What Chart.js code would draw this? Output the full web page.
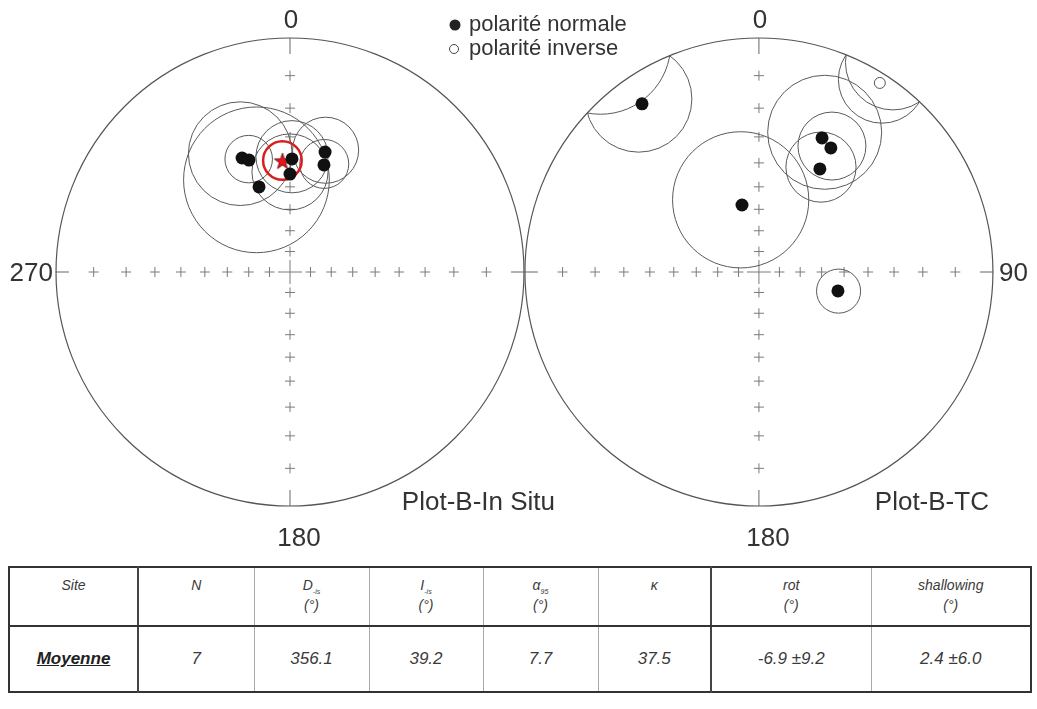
<!DOCTYPE html>
<html>
<head>
<meta charset="utf-8">
<script src="https://cdn.jsdelivr.net/npm/chart.js@4.4.0/dist/chart.umd.min.js"></script>
<style>
  body { margin: 0; background: #fff; font-family: "Liberation Sans", Arial, sans-serif; }
  #wrap { position: relative; width: 1037px; height: 709px; }
  #stereo { position: absolute; left: 0; top: 0; }
  #tab { position: absolute; left: 8px; top: 566px; width: 1022px; table-layout: fixed;
         border-collapse: collapse; border: 2px solid #333; font-style: italic; color: #3a3a3a; }
  #tab td { border-left: 1px solid #aaa; text-align: center; padding: 0; }
  #tab td.dark { border-left: 2px solid #444; }
  #tab tr.head td { height: 59px; vertical-align: top; font-size: 14px; line-height: 20px;
                    padding-top: 7px; border-bottom: 2px solid #333; box-sizing: border-box; }
  #tab tr.data td { height: 64px; font-size: 17px; }
  #tab sub { font-size: 7px; line-height: 0; }
  #tab .site { font-weight: bold; text-decoration: underline; font-size: 17px; color: #222; }
</style>
</head>
<body>
<div id="wrap">
  <canvas id="stereo" width="1037" height="555"></canvas>
  <table id="tab">
    <colgroup id="cols"></colgroup>
    <tr class="head" id="head"></tr>
    <tr class="data" id="row"></tr>
  </table>
</div>
<script>
// Plot-B-In Situ : directions par site (déclinaison, inclinaison, alpha95 en degrés)
const situDec = [337.2, 339.9, 340.0, 1.0, 0.0, 16.3, 17.6];
const situInc = [34.3, 36.0, 47.7, 38.4, 44.6, 33.8, 38.7];
const situA95 = [19.5, 9.2, 30.0, 14.2, 15.7, 12.5, 9.7];

// Plot-B-TC (inclinaison négative = polarité inverse)
const tcDec = [325.2, 345.8, 25.2, 30.1, 30.6, 103.5, 32.6];
const tcInc = [7.6, 57.1, 25.3, 27.0, 35.8, 51.7, -2.4];
const tcA95 = [14.5, 29.8, 19.5, 12.0, 13.5, 9.6, 11.0];

// direction moyenne (in situ)
const meanDec = [356.1];
const meanInc = [39.2];
const meanA95 = [7.7];

// croix tous les 10° d'inclinaison
const tickInc = [80, 70, 60, 50, 40, 30, 20, 10];
const azLabels = ['0', '90', '180', '270'];
const netTitles = ['Plot-B-In Situ', 'Plot-B-TC'];
const legendLabels = ['polarité normale', 'polarité inverse'];

// tableau
const tableCols = [129, 116, 115, 114, 115, 113, 160, 160];
const tableHeads = ['Site', 'N', 'D<sub>-is</sub>', 'I<sub>-is</sub>', 'α<sub>95</sub>', 'κ', 'rot', 'shallowing'];
const tableUnits = ['', '', '(°)', '(°)', '(°)', '', '(°)', '(°)'];
const tableRow = ['Moyenne', '7', '356.1', '39.2', '7.7', '37.5', '-6.9 ±9.2', '2.4 ±6.0'];

const DEG = Math.PI / 180;
const netOffset = [0, 2.004]; // centres des deux canevas (unité = rayon du primitif)
const FONT = '"Liberation Sans", Arial, sans-serif';

// projection stéréographique (hémisphère inférieur, inverse rabattu)
function project(dec, inc, net) {
    const r = Math.tan((90 - Math.abs(inc)) / 2 * DEG);
    return {x: netOffset[net] + r * Math.sin(dec * DEG), y: r * Math.cos(dec * DEG)};
}

function points(decs, incs, net, keep) {
    const out = [];
    decs.forEach((d, i) => {
        if (keep(incs[i])) out.push(project(d, incs[i], net));
    });
    return out;
}

// étoile rouge pour la moyenne
const star = document.createElement('canvas');
star.width = 18; star.height = 18;
(function () {
    const c = star.getContext('2d');
    c.beginPath();
    for (let i = 0; i < 10; i++) {
        const r = i % 2 ? 3.4 : 8.5;
        const a = -Math.PI / 2 + i * Math.PI / 5;
        c.lineTo(9 + r * Math.cos(a), 9.5 + r * Math.sin(a));
    }
    c.closePath();
    c.fillStyle = '#e8141c';
    c.fill();
    c.strokeStyle = '#5a0a0a';
    c.lineWidth = 0.8;
    c.stroke();
})();

function drawCone(chart, net, dec, inc, a95, color, width) {
    const {ctx, scales: {x, y}} = chart;
    const kx = x.getPixelForValue(1) - x.getPixelForValue(0);
    const ky = y.getPixelForValue(0) - y.getPixelForValue(1);
    const th = 90 - Math.abs(inc);
    const r1 = Math.tan((th - a95) / 2 * DEG);
    const r2 = Math.tan((th + a95) / 2 * DEG);
    const circles = [[(r1 + r2) / 2, (r2 - r1) / 2]];
    if (r2 > 1 && r1 > 0) circles.push([(1 / r1 + 1 / r2) / 2, (1 / r1 - 1 / r2) / 2]); // partie rabattue
    ctx.save();
    ctx.beginPath();
    ctx.ellipse(x.getPixelForValue(netOffset[net]), y.getPixelForValue(0), kx, ky, 0, 0, 2 * Math.PI);
    ctx.clip();
    ctx.strokeStyle = color;
    ctx.lineWidth = width;
    circles.forEach(([c, rad]) => {
        const cx = netOffset[net] + c * Math.sin(dec * DEG);
        const cy = c * Math.cos(dec * DEG);
        ctx.beginPath();
        ctx.ellipse(x.getPixelForValue(cx), y.getPixelForValue(cy), rad * kx, rad * ky, 0, 0, 2 * Math.PI);
        ctx.stroke();
    });
    ctx.restore();
}

const stereoPlugin = {
    id: 'stereonet',
    beforeDatasetsDraw(chart) {
        const {ctx, scales: {x, y}} = chart;
        const kx = x.getPixelForValue(1) - x.getPixelForValue(0);
        const ky = y.getPixelForValue(0) - y.getPixelForValue(1);
        netOffset.forEach((off, n) => {
            const cx = x.getPixelForValue(off), cy = y.getPixelForValue(0);
            ctx.save();
            // croix de graduation
            ctx.strokeStyle = '#7a7a7a';
            ctx.lineWidth = 1;
            const cross = (px, py, s) => {
                ctx.beginPath();
                ctx.moveTo(px - s, py); ctx.lineTo(px + s, py);
                ctx.moveTo(px, py - s); ctx.lineTo(px, py + s);
                ctx.stroke();
            };
            tickInc.forEach(inc => {
                const r = Math.tan((90 - inc) / 2 * DEG);
                cross(cx + r * kx, cy, 5);
                cross(cx - r * kx, cy, 5);
                cross(cx, cy + r * ky, 5);
                cross(cx, cy - r * ky, 5);
            });
            cross(cx, cy, 12);
            // traits aux points cardinaux
            ctx.strokeStyle = '#666';
            ctx.beginPath();
            ctx.moveTo(cx, cy - ky); ctx.lineTo(cx, cy - ky + 16);
            ctx.moveTo(cx, cy + ky); ctx.lineTo(cx, cy + ky - 16);
            ctx.moveTo(cx - kx, cy); ctx.lineTo(cx - kx + 13, cy);
            ctx.moveTo(cx + kx, cy); ctx.lineTo(cx + kx - 13, cy);
            ctx.stroke();
            // cercle primitif
            ctx.strokeStyle = '#555';
            ctx.lineWidth = 1.2;
            ctx.beginPath();
            ctx.ellipse(cx, cy, kx, ky, 0, 0, 2 * Math.PI);
            ctx.stroke();
            ctx.restore();
        });
        situDec.forEach((d, i) => drawCone(chart, 0, d, situInc[i], situA95[i], '#5a5a5a', 1));
        tcDec.forEach((d, i) => drawCone(chart, 1, d, tcInc[i], tcA95[i], '#5a5a5a', 1));
    },
    beforeDatasetDraw(chart, args) {
        if (args.meta.label !== 'moyenne') return;
        drawCone(chart, 0, meanDec[0], meanInc[0], meanA95[0], '#d81e1e', 2.5);
    },
    afterDraw(chart) {
        const {ctx, scales: {x, y}} = chart;
        const kx = x.getPixelForValue(1) - x.getPixelForValue(0);
        const ky = y.getPixelForValue(0) - y.getPixelForValue(1);
        const cy = y.getPixelForValue(0);
        ctx.save();
        ctx.fillStyle = '#333';
        ctx.textBaseline = 'middle';
        ctx.font = '26px ' + FONT;
        netOffset.forEach((off, n) => {
            const cx = x.getPixelForValue(off);
            ctx.textAlign = 'center';
            ctx.fillText(azLabels[0], cx + 1, cy - ky - 17);
            ctx.fillText(azLabels[2], cx + 9, cy + ky + 33);
            ctx.textAlign = 'right';
            ctx.fillText(netTitles[n], cx + (n ? 230 : 265), cy + ky - 3);
        });
        ctx.textAlign = 'right';
        ctx.fillText(azLabels[3], x.getPixelForValue(netOffset[0]) - kx - 3, cy + 2);
        ctx.textAlign = 'left';
        ctx.fillText(azLabels[1], x.getPixelForValue(netOffset[1]) + kx + 6, cy + 2);

        // légende
        ctx.font = '22px ' + FONT;
        ctx.fillStyle = '#222';
        ctx.beginPath();
        ctx.arc(455, 25, 5.5, 0, 2 * Math.PI);
        ctx.fill();
        ctx.strokeStyle = '#444';
        ctx.lineWidth = 1;
        ctx.beginPath();
        ctx.arc(454, 49, 4.5, 0, 2 * Math.PI);
        ctx.stroke();
        ctx.fillStyle = '#333';
        ctx.fillText(legendLabels[0], 469, 25);
        ctx.fillText(legendLabels[1], 469, 49);
        ctx.restore();
    }
};

const ctx = document.getElementById('stereo').getContext('2d');
const kPx = 234; // pixels par rayon
const stereo = new Chart(ctx, {
    type: 'scatter',
    data: {
        datasets: [
            {
                label: 'in situ',
                data: points(situDec, situInc, 0, i => i > 0),
                pointRadius: 6.5,
                backgroundColor: '#111',
                borderColor: '#111',
                borderWidth: 0
            },
            {
                label: 'TC normale',
                data: points(tcDec, tcInc, 1, i => i > 0),
                pointRadius: 6.5,
                backgroundColor: '#111',
                borderColor: '#111',
                borderWidth: 0
            },
            {
                label: 'TC inverse',
                data: points(tcDec, tcInc, 1, i => i < 0),
                pointRadius: 5.5,
                backgroundColor: '#fff',
                borderColor: '#555',
                borderWidth: 1
            },
            {
                label: 'moyenne',
                data: points(meanDec, meanInc, 0, i => true),
                pointStyle: star,
                pointRadius: 9
            }
        ]
    },
    options: {
        responsive: false,
        animation: false,
        layout: {padding: 0, autoPadding: false},
        plugins: {
            legend: {display: false},
            tooltip: {enabled: false}
        },
        scales: {
            x: {type: 'linear', display: false, min: -290 / kPx, max: (1037 - 290) / kPx},
            y: {type: 'linear', display: false, min: -(555 - 272) / kPx, max: 272 / kPx}
        }
    },
    plugins: [stereoPlugin]
});

// tableau récapitulatif
const cols = document.getElementById('cols');
const head = document.getElementById('head');
const row = document.getElementById('row');
tableCols.forEach(w => {
    const c = document.createElement('col');
    c.style.width = w + 'px';
    cols.appendChild(c);
});
tableHeads.forEach((h, i) => {
    const td = document.createElement('td');
    td.innerHTML = h + (tableUnits[i] ? '<br>' + tableUnits[i] : '');
    if (i === 1 || i === 6) td.className = 'dark';
    head.appendChild(td);
});
tableRow.forEach((v, i) => {
    const td = document.createElement('td');
    if (i === 0) td.innerHTML = '<span class="site">' + v + '</span>';
    else td.textContent = v;
    if (i === 1 || i === 6) td.className = 'dark';
    row.appendChild(td);
});
</script>
</body>
</html>
